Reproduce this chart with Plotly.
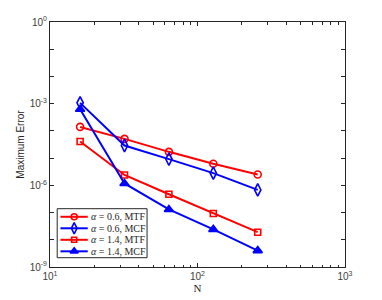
import plotly.graph_objects as go

N = [16, 32, 64, 128, 256]
err_06_mtf = [1.4e-4, 5.1e-5, 1.7e-5, 6.2e-6, 2.5e-6]
err_06_mcf = [1.07e-3, 2.9e-5, 9.2e-6, 2.8e-6, 6.8e-7]
err_14_mtf = [4.1e-5, 2.4e-6, 4.7e-7, 9.2e-8, 1.9e-8]
err_14_mcf = [6.2e-4, 1.17e-6, 1.3e-7, 2.4e-8, 4.0e-9]
names = ["<i>α</i> = 0.6, MTF", "<i>α</i> = 0.6, MCF", "<i>α</i> = 1.4, MTF", "<i>α</i> = 1.4, MCF"]

series = [err_06_mtf, err_06_mcf, err_14_mtf, err_14_mcf]
colors = ["#ff0000", "#0000ff", "#ff0000", "#0000ff"]
symbols = ["circle-open", "diamond-tall-open", "square-open", "triangle-up"]
sizes = [7, 9, 6, 8]

# legend geometry (fractions of plot area)
LEG_BOX = dict(x0=0.0244, x1=0.329, y0=0.038, y1=0.238)
LEG_LINE_X = [0.0355, 0.128]
LEG_MARK_X = 0.082
LEG_TEXT_X = 0.133
LEG_ROWS_Y = [0.205, 0.158, 0.111, 0.064]

fig = go.Figure()
for y, nm, c, s, sz in zip(series, names, colors, symbols, sizes):
    fig.add_trace(go.Scatter(
        x=N, y=y, name=nm, mode="lines+markers", showlegend=False,
        line=dict(color=c, width=2),
        marker=dict(symbol=s, size=sz, color=c, line=dict(color=c, width=1.6)),
    ))

# custom compact legend on an overlay axis spanning the plot area
for nm, c, s, sz, ry in zip(names, colors, symbols, sizes, LEG_ROWS_Y):
    fig.add_trace(go.Scatter(
        x=LEG_LINE_X, y=[ry, ry], mode="lines", showlegend=False, hoverinfo="skip",
        line=dict(color=c, width=2), xaxis="x2", yaxis="y2",
    ))
    fig.add_trace(go.Scatter(
        x=[LEG_MARK_X], y=[ry], mode="markers", showlegend=False, hoverinfo="skip",
        marker=dict(symbol=s, size=sz - 1, color=c, line=dict(color=c, width=1.6)),
        xaxis="x2", yaxis="y2",
    ))
    fig.add_annotation(
        x=LEG_TEXT_X, y=ry, xref="paper", yref="paper", text=nm, showarrow=False,
        xanchor="left", yanchor="middle",
        font=dict(family="Liberation Serif, Times New Roman", size=10, color="#262626"),
    )

fig.add_shape(type="rect", xref="paper", yref="paper", **LEG_BOX,
              line=dict(color="#262626", width=1), fillcolor="rgba(0,0,0,0)", layer="above")

ytickvals = [10.0 ** k for k in range(-9, 1)]
yticktext = ["10<sup>%d</sup>" % k if k % 3 == 0 else "" for k in range(-9, 1)]
xminor = [m * 10 ** d for d in (1, 2) for m in range(2, 10)]

fig.update_layout(
    width=374, height=292,
    margin=dict(l=42, r=37, t=14, b=33, autoexpand=False),
    plot_bgcolor="white", paper_bgcolor="white",
    font=dict(family="Liberation Sans, Arial", size=10, color="#404040"),
    showlegend=False,
    xaxis=dict(
        type="log", range=[1, 3], automargin=False,
        tickvals=[10, 100, 1000],
        ticktext=["10<sup>1</sup>", "10<sup>2</sup>", "10<sup>3</sup>"],
        ticks="inside", ticklen=4, tickcolor="#262626",
        minor=dict(tickvals=xminor, ticks="inside", ticklen=2.5, tickcolor="#262626"),
        showline=True, linecolor="#262626", linewidth=1, mirror="ticks",
        showgrid=False, zeroline=False,
        title=dict(text="N", font=dict(family="Liberation Serif, Times New Roman", size=11, color="#262626"), standoff=1),
    ),
    yaxis=dict(
        type="log", range=[-9, 0], automargin=False,
        tickvals=ytickvals, ticktext=yticktext,
        ticks="inside", ticklen=4, tickcolor="#262626",
        showline=True, linecolor="#262626", linewidth=1, mirror="ticks",
        showgrid=False, zeroline=False,
        title=dict(text="Maximum Error", font=dict(size=10, color="#262626"), standoff=3),
    ),
    xaxis2=dict(range=[0, 1], overlaying="x", anchor="y2", visible=False, fixedrange=True),
    yaxis2=dict(range=[0, 1], overlaying="y", anchor="x2", visible=False, fixedrange=True),
)

fig.write_html("out.html")
